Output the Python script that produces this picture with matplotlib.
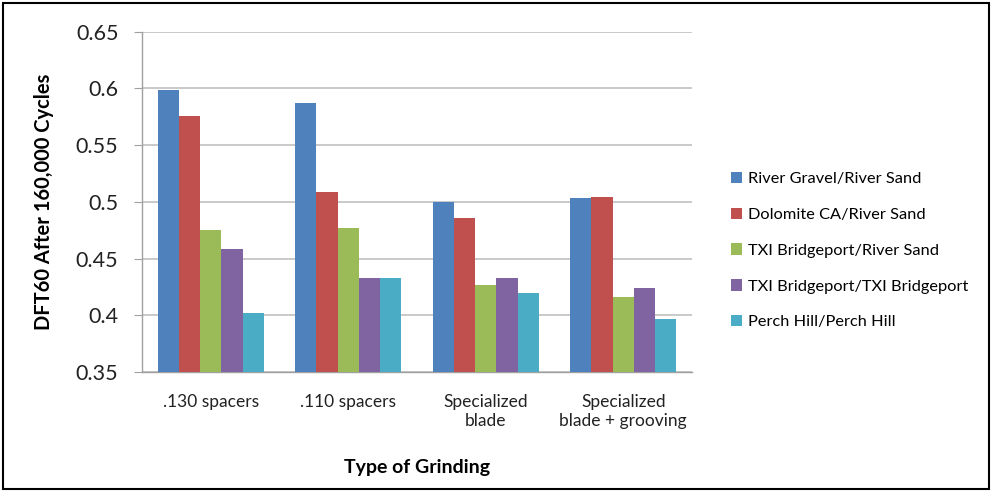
import matplotlib
matplotlib.use("Agg")
import matplotlib.pyplot as plt
import numpy as np
from matplotlib.patches import Rectangle, Patch

plt.rcParams['font.family'] = ['Lato', 'DejaVu Sans']

categories = [".130 spacers", ".110 spacers", "Specialized\nblade", "Specialized\nblade + grooving"]
series_names = ["River Gravel/River Sand", "Dolomite CA/River Sand", "TXI Bridgeport/River Sand",
                "TXI Bridgeport/TXI Bridgeport", "Perch Hill/Perch Hill"]
river_gravel = [0.599, 0.587, 0.500, 0.503]
dolomite = [0.576, 0.509, 0.486, 0.504]
txi_river = [0.475, 0.477, 0.427, 0.416]
txi_txi = [0.458, 0.433, 0.433, 0.424]
perch_hill = [0.402, 0.433, 0.420, 0.397]
yticks = [0.35, 0.4, 0.45, 0.5, 0.55, 0.6, 0.65]
ytick_labels = ["0.35", "0.4", "0.45", "0.5", "0.55", "0.6", "0.65"]

colors = ["#4F81BD", "#C0504D", "#9BBB59", "#8064A2", "#4BACC6"]
all_series = [river_gravel, dolomite, txi_river, txi_txi, perch_hill]

fig = plt.figure(figsize=(9.93, 4.92), dpi=100)
ax = fig.add_axes([142/993, 1-372/492, (692-142)/993, (372-31.7)/492])

x = np.arange(len(categories))
w = 0.154
for i, (vals, c) in enumerate(zip(all_series, colors)):
    ax.bar(x + (i - 2) * w, vals, width=w, color=c, label=series_names[i], zorder=3)

ax.set_xlim(-0.5, len(categories) - 0.5)
ax.set_ylim(0.35, 0.65)
ax.set_yticks(yticks)
ax.set_yticklabels(ytick_labels, fontsize=15.5, color="#222222")
ax.set_xticks(x)
ax.set_xticklabels(categories, fontsize=12.5, color="#222222", linespacing=1.2)
ax.tick_params(axis='x', length=0, pad=16)
ax.tick_params(axis='y', length=6, color="#a0a0a0", pad=11)
ax.yaxis.grid(True, color="#c0c0c0", linewidth=1.2, zorder=0)
for s in ["top", "right"]:
    ax.spines[s].set_visible(False)
ax.spines["left"].set_color("#a0a0a0")
ax.spines["bottom"].set_color("#a0a0a0")
ax.spines["left"].set_linewidth(1.0)
ax.spines["bottom"].set_linewidth(1.0)

ax.set_ylabel("DFT60 After 160,000 Cycles", fontsize=14.5, fontweight="bold", labelpad=16)
ax.set_xlabel("Type of Grinding", fontsize=14, fontweight="bold", labelpad=22)

handles = [Patch(facecolor=c, label=n) for c, n in zip(colors, series_names)]
fig.legend(handles=handles, loc="upper left", bbox_to_anchor=(716/993, 1-157/492),
           frameon=False, fontsize=11.8, labelspacing=1.3, handlelength=0.7,
           handleheight=0.7, handletextpad=0.35)

fig.patches.append(Rectangle((3/993, 3/492), 986/993, 486/492, transform=fig.transFigure,
                             fill=False, edgecolor="black", linewidth=1.5))

fig.savefig("out.png", dpi=100)
